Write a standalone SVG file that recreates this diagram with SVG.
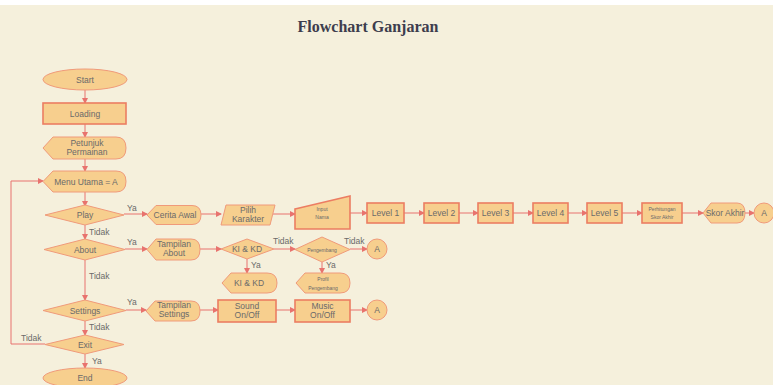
<svg xmlns="http://www.w3.org/2000/svg" width="773" height="385" viewBox="0 0 773 385">
<defs>
<marker id="ah" markerWidth="6" markerHeight="6" refX="5" refY="3" orient="auto" markerUnits="userSpaceOnUse">
<path d="M0,0 L6,3 L0,6 Z" fill="#e8736e"/>
</marker>
<style>
.s{fill:#f7cf8e;stroke:#f09a7a;stroke-width:1}
.r{fill:#f7cf8e;stroke:#ec7d62;stroke-width:1.6}
.t{font-family:"Liberation Sans",Arial,sans-serif;font-size:8.5px;fill:#6a6a6a;text-anchor:middle}
.sm{font-family:"Liberation Sans",Arial,sans-serif;font-size:5px;fill:#6a6a6a;text-anchor:middle}
.l{font-family:"Liberation Sans",Arial,sans-serif;font-size:8.5px;fill:#6a6a6a}
.c{fill:none;stroke:#e8736e;stroke-width:1;marker-end:url(#ah)}
</style>
</defs>
<rect width="773" height="385" fill="#ffffff"/>
<rect x="0" y="5" width="773" height="380" fill="#f5f0dc"/>
<text x="368" y="32" font-family="Liberation Serif,Times New Roman,serif" font-weight="bold" font-size="16" fill="#3d3d4d" text-anchor="middle">Flowchart Ganjaran</text>

<g id="connectors">
<path class="c" d="M85,90 L85,103"/>
<path class="c" d="M85,124 L85,137"/>
<path class="c" d="M85,159 L85,171"/>
<path class="c" d="M85,192 L85,206"/>
<path class="c" d="M85,225 L85,239"/>
<path class="c" d="M85,260 L85,300"/>
<path class="c" d="M85,321 L85,335"/>
<path class="c" d="M85,354 L85,368"/>
<path class="c" d="M45,344 L11,344 L11,181 L43,181"/>
<path class="c" d="M124,214 L147,214"/>
<path class="c" d="M201,214 L221,214"/>
<path class="c" d="M273,214 L295,214"/>
<path class="c" d="M350,213 L367,213"/>
<path class="c" d="M404,213 L424,213"/>
<path class="c" d="M459,213 L478,213"/>
<path class="c" d="M513,213 L533,213"/>
<path class="c" d="M568,213 L587,213"/>
<path class="c" d="M622,213 L642,213"/>
<path class="c" d="M682,213 L703,213"/>
<path class="c" d="M745,213 L754,213"/>
<path class="c" d="M125,249 L147,249"/>
<path class="c" d="M200,249 L221,249"/>
<path class="c" d="M274,249 L295,249"/>
<path class="c" d="M350,249 L367,249"/>
<path class="c" d="M247,259 L247,273"/>
<path class="c" d="M322,262 L322,273"/>
<path class="c" d="M126,310 L146,310"/>
<path class="c" d="M200,310 L218,310"/>
<path class="c" d="M276,310 L295,310"/>
<path class="c" d="M350,310 L367,310"/>
<text class="l" x="127" y="211">Ya</text>
<text class="l" x="127" y="245">Ya</text>
<text class="l" x="127" y="305">Ya</text>
<text class="l" x="89" y="235">Tidak</text>
<text class="l" x="89" y="279">Tidak</text>
<text class="l" x="89" y="330">Tidak</text>
<text class="l" x="21" y="341">Tidak</text>
<text class="l" x="92" y="364">Ya</text>
<text class="l" x="273" y="244">Tidak</text>
<text class="l" x="344" y="244">Tidak</text>
<text class="l" x="251" y="268">Ya</text>
<text class="l" x="326" y="268">Ya</text>
</g>

<g id="start"><ellipse class="s" cx="85" cy="79.5" rx="42" ry="10.5"/><text class="t" x="85" y="82.5">Start</text></g>
<g id="loading"><rect class="r" x="43" y="103" width="83" height="21"/><text class="t" x="85" y="116.5">Loading</text></g>
<g id="petunjuk"><path class="s" d="M43,148 L53,137 L116,137 Q126,137 126,148 Q126,159 116,159 L53,159 Z"/><text class="t" x="87" y="146">Petunjuk</text><text class="t" x="87" y="155">Permainan</text></g>
<g id="menu"><path class="s" d="M43,181.5 L53,171 L116,171 Q126,171 126,181.5 Q126,192 116,192 L53,192 Z"/><text class="t" x="86" y="184.5">Menu Utama = A</text></g>
<g id="play"><path class="s" d="M45,215 L85,205 L124,215 L85,225 Z"/><text class="t" x="85" y="218">Play</text></g>
<g id="about"><path class="s" d="M44,249.5 L85,239 L125,249.5 L85,260 Z"/><text class="t" x="85" y="252.5">About</text></g>
<g id="settings"><path class="s" d="M43,310.5 L85,300 L126,310.5 L85,321 Z"/><text class="t" x="85" y="313.5">Settings</text></g>
<g id="exit"><path class="s" d="M45,344.5 L85,335 L124,344.5 L85,354 Z"/><text class="t" x="85" y="347.5">Exit</text></g>
<g id="end"><ellipse class="s" cx="85" cy="378" rx="42" ry="10"/><text class="t" x="85" y="381">End</text></g>

<g id="cerita"><path class="s" d="M147,215 L156,205.5 L192,205.5 Q201,205.5 201,215 Q201,224.5 192,224.5 L156,224.5 Z"/><text class="t" x="175" y="218">Cerita Awal</text></g>
<g id="pilih"><path class="s" d="M226,205 L275,205 L270,225 L221,225 Z"/><text class="t" x="248" y="213">Pilih</text><text class="t" x="248" y="222">Karakter</text></g>
<g id="input"><path class="r" d="M295,209 L350,196 L350,229 L295,229 Z"/><text class="sm" x="322" y="211">Input</text><text class="sm" x="322" y="219">Nama</text></g>
<g id="level1"><rect class="r" x="367" y="203" width="37" height="20"/><text class="t" x="385.5" y="216">Level 1</text></g>
<g id="level2"><rect class="r" x="424" y="203" width="35" height="20"/><text class="t" x="441.5" y="216">Level 2</text></g>
<g id="level3"><rect class="r" x="478" y="203" width="35" height="20"/><text class="t" x="495.5" y="216">Level 3</text></g>
<g id="level4"><rect class="r" x="533" y="203" width="35" height="20"/><text class="t" x="550.5" y="216">Level 4</text></g>
<g id="level5"><rect class="r" x="587" y="203" width="35" height="20"/><text class="t" x="604.5" y="216">Level 5</text></g>
<g id="perhitungan"><rect class="r" x="642" y="203" width="40" height="20"/><text class="sm" x="662" y="211">Perhitungan</text><text class="sm" x="662" y="219">Skor Akhir</text></g>
<g id="skor"><path class="s" d="M703,213 L711,203 L737,203 Q745,203 745,213 Q745,223 737,223 L711,223 Z"/><text class="t" x="725" y="216">Skor Akhir</text></g>
<g id="a1"><circle class="s" cx="764" cy="213" r="10"/><text class="t" x="764" y="216">A</text></g>

<g id="tampilan-about"><path class="s" d="M147,249.5 L156,239 L191,239 Q200,239 200,249.5 Q200,260 191,260 L156,260 Z"/><text class="t" x="174" y="247">Tampilan</text><text class="t" x="174" y="256">About</text></g>
<g id="kikd-dec"><path class="s" d="M221,249 L247,239 L274,249 L247,259 Z"/><text class="t" x="247" y="252">KI &amp; KD</text></g>
<g id="pengembang-dec"><path class="s" d="M295,249.5 L322,237 L350,249.5 L322,262 Z"/><text class="sm" x="322" y="251.5">Pengembang</text></g>
<g id="a2"><circle class="s" cx="377" cy="249" r="10"/><text class="t" x="377" y="252">A</text></g>
<g id="kikd"><path class="s" d="M222,283 L231,273 L267,273 Q277,273 277,283 Q277,293 267,293 L231,293 Z"/><text class="t" x="249" y="286">KI &amp; KD</text></g>
<g id="profil"><path class="s" d="M296,283 L305,273 L340,273 Q350,273 350,283 Q350,293 340,293 L305,293 Z"/><text class="sm" x="323" y="281">Profil</text><text class="sm" x="323" y="290">Pengembang</text></g>

<g id="tampilan-settings"><path class="s" d="M146,311 L155,301 L191,301 Q200,301 200,311 Q200,321 191,321 L155,321 Z"/><text class="t" x="174" y="308">Tampilan</text><text class="t" x="174" y="317">Settings</text></g>
<g id="sound"><rect class="r" x="218" y="300" width="58" height="22"/><text class="t" x="247" y="308.5">Sound</text><text class="t" x="247" y="317.5">On/Off</text></g>
<g id="music"><rect class="r" x="295" y="300" width="55" height="22"/><text class="t" x="322.5" y="308.5">Music</text><text class="t" x="322.5" y="317.5">On/Off</text></g>
<g id="a3"><circle class="s" cx="377" cy="310" r="10"/><text class="t" x="377" y="313">A</text></g>
</svg>
